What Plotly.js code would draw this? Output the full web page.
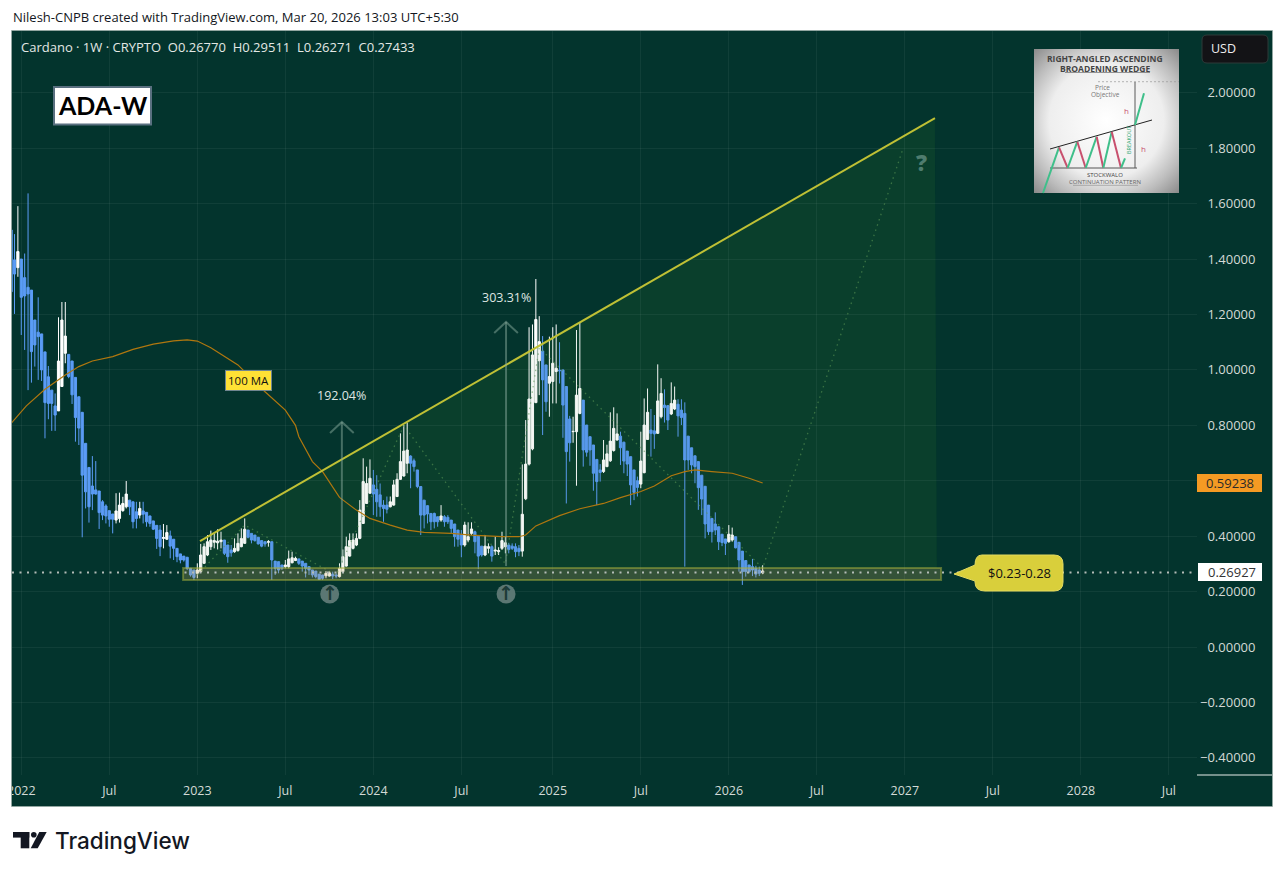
<!DOCTYPE html>
<html><head><meta charset="utf-8">
<script src="https://cdn.plot.ly/plotly-3.0.1.min.js"></script>
<style>html,body{margin:0;padding:0;background:#fff;overflow:hidden}#c{width:1284px;height:875px}</style>
</head><body><div id="c"></div>
<script>
// Weekly Cardano candles, first bar is the week of 2021-12-13
const firstWeek = '2021-12-13';
const opens = [1.505,1.397,1.369,1.40,1.333,1.298,1.288,1.18,1.136,1.13,1.065,.975,.927,.87,.852,.94,1.06,1.056,1.032,.973,.903,.847,.735,.648,.581,.567,.563,.524,.509,.492,.48,.458,.464,.492,.506,.53,.524,.488,.476,.491,.486,.473,.455,.439,.422,.392,.389,.401,.389,.356,.336,.328,.324,.284,.278,.266,.272,.302,.332,.362,.378,.376,.38,.386,.368,.35,.344,.348,.362,.374,.422,.41,.404,.396,.384,.38,.378,.38,.31,.308,.296,.29,.29,.304,.312,.318,.31,.302,.29,.278,.274,.263,.26,.257,.256,.263,.26,.254,.272,.292,.328,.356,.368,.392,.446,.518,.555,.585,.569,.549,.512,.512,.506,.512,.543,.605,.617,.663,.689,.672,.639,.579,.53,.51,.482,.482,.47,.458,.47,.468,.458,.444,.422,.404,.368,.386,.41,.416,.4,.364,.332,.356,.362,.346,.344,.356,.362,.368,.364,.362,.356,.346,.535,.66,.715,.882,1.033,1.068,1.018,.952,.958,.994,.999,1.0,.94,.823,.777,.777,.843,.891,.801,.759,.729,.677,.639,.633,.651,.672,.709,.747,.761,.739,.707,.687,.639,.6,.588,.629,.749,.783,.78,.771,.831,.873,.871,.841,.859,.876,.855,.843,.761,.719,.69,.669,.62,.58,.512,.464,.444,.434,.407,.39,.38,.386,.398,.378,.346,.312,.296,.29,.284,.278,.2677];
const closes = [1.282,1.346,1.427,1.262,1.267,1.274,1.066,1.09,1.12,1.0,.882,.879,.879,.837,1.032,1.18,1.122,.976,.91,.828,.79,.62,.56,.506,.552,.552,.485,.476,.473,.461,.461,.491,.512,.518,.552,.506,.452,.464,.5,.479,.452,.446,.425,.392,.362,.395,.413,.364,.356,.326,.314,.314,.284,.26,.251,.278,.332,.362,.38,.386,.384,.382,.386,.338,.326,.34,.356,.374,.392,.425,.396,.386,.384,.372,.364,.372,.38,.314,.284,.278,.284,.296,.318,.322,.32,.302,.292,.284,.278,.26,.254,.244,.248,.266,.268,.256,.256,.284,.326,.362,.384,.386,.392,.494,.597,.59,.609,.552,.524,.506,.5,.497,.524,.585,.605,.669,.707,.711,.663,.651,.579,.476,.476,.48,.452,.452,.452,.473,.452,.452,.428,.398,.389,.368,.44,.398,.426,.38,.328,.332,.364,.362,.328,.35,.348,.384,.376,.352,.356,.344,.344,.479,.66,.895,1.054,1.182,1.102,.964,.885,.976,1.024,1.006,.997,.873,.705,.737,.778,.909,.933,.711,.703,.711,.627,.597,.63,.675,.697,.743,.789,.769,.719,.671,.66,.585,.558,.576,.671,.801,.847,.771,.769,.888,.915,.864,.819,.879,.891,.834,.828,.675,.675,.657,.651,.575,.534,.444,.416,.416,.422,.38,.377,.374,.407,.404,.358,.314,.272,.272,.272,.278,.263,.266,.27433];
const highs = [1.505,1.49,1.591,1.40,1.42,1.637,1.288,1.18,1.262,1.13,1.065,1.014,.927,.915,1.19,1.245,1.245,1.056,1.032,.973,.903,.847,.735,.648,.689,.671,.563,.53,.515,.492,.48,.555,.557,.542,.599,.53,.524,.524,.524,.524,.486,.473,.455,.439,.44,.444,.44,.42,.389,.356,.336,.328,.324,.284,.278,.302,.372,.374,.404,.42,.41,.425,.416,.386,.368,.368,.392,.41,.428,.464,.422,.41,.404,.396,.384,.38,.386,.38,.31,.308,.296,.314,.348,.344,.326,.318,.31,.302,.29,.278,.274,.263,.26,.274,.274,.272,.266,.302,.352,.398,.41,.41,.41,.53,.681,.651,.677,.639,.62,.59,.53,.543,.543,.603,.627,.771,.801,.81,.692,.68,.639,.579,.53,.512,.482,.485,.47,.512,.476,.476,.458,.444,.422,.422,.452,.45,.45,.42,.4,.364,.404,.374,.367,.398,.36,.416,.398,.376,.374,.374,.368,.659,.819,1.154,1.164,1.328,1.194,1.122,1.018,1.12,1.154,1.164,1.1,1.0,.94,.834,.831,1.144,1.172,.891,.801,.759,.729,.677,.66,.747,.73,.847,.865,.843,.777,.741,.707,.687,.639,.615,.777,.897,.933,.859,.837,1.02,.97,.93,.873,.955,.94,.894,.894,.883,.761,.719,.69,.669,.62,.58,.512,.464,.486,.434,.407,.39,.44,.431,.398,.378,.346,.312,.296,.318,.293,.29,.29511];
const lows = [1.186,1.202,1.336,1.126,1.072,.927,.954,1.012,.964,.96,.753,.822,.78,.78,.852,.94,1.024,.97,.877,.741,.729,.396,.50,.449,.494,.55,.426,.458,.446,.434,.41,.446,.449,.488,.5,.476,.428,.428,.464,.446,.434,.434,.422,.354,.328,.356,.386,.32,.314,.306,.302,.308,.278,.254,.242,.248,.268,.3,.328,.35,.356,.352,.356,.332,.304,.326,.34,.344,.36,.372,.392,.374,.38,.37,.36,.362,.362,.242,.26,.266,.278,.284,.284,.302,.31,.296,.272,.251,.26,.251,.248,.242,.242,.248,.254,.245,.248,.251,.268,.29,.326,.352,.364,.389,.444,.516,.553,.476,.47,.47,.452,.482,.504,.51,.541,.603,.615,.627,.573,.633,.573,.404,.428,.446,.422,.428,.434,.452,.434,.444,.41,.362,.362,.324,.362,.378,.404,.338,.281,.326,.328,.338,.308,.332,.332,.35,.338,.338,.35,.324,.328,.326,.53,.655,.71,.88,.909,.765,.849,.831,.879,.879,.951,.755,.518,.669,.737,.582,.84,.651,.687,.654,.564,.512,.597,.628,.649,.668,.705,.745,.657,.627,.617,.512,.53,.543,.573,.627,.747,.687,.715,.769,.825,.81,.783,.837,.855,.759,.801,.29,.639,.627,.591,.495,.476,.392,.404,.377,.404,.35,.364,.332,.376,.38,.356,.272,.224,.254,.266,.256,.251,.256,.26271];
// 100-week moving average, read at these bar numbers
const maBars = [0,4.5,10,16,20,24,30,36,42,48,52,55,59,63,67,69,75,81,84,85,89,92,95,97,102,106,112,117,122,130,136,145,150,152,155,162,168,175,180,186,190,195,199,202,207,213,218,222];
const maValues = [.807,.87,.93,.982,1.012,1.032,1.048,1.074,1.093,1.105,1.108,1.104,1.08,1.048,1.018,.994,.921,.855,.80,.759,.669,.633,.579,.54,.494,.464,.44,.422,.414,.41,.404,.398,.398,.404,.437,.474,.499,.518,.539,.561,.581,.618,.633,.639,.633,.627,.609,.592];
// Drawn pattern on the chart
const trendBars = [55.8,272.9];
const trendValues = [.3825,1.909];
const wedgeBars = [55.8,272.9,273.5,55.8];
const wedgeValues = [.3825,1.909,.285,.285];
const zigzagBars = [55,69,96,116,146,156,222,263.5];
const zigzagValues = [.26,.44,.26,.80,.30,1.08,.285,1.80];
const zoneLow = .242, zoneHigh = .285, zoneBars = [50.8,274.7];
const lastPrice = .26927;
const yTicks = [2,1.8,1.6,1.4,1.2,1,.8,.6,.4,.2,0,-.2,-.4];
const xTicks = ['2022-01-03','2022-07-04','2023-01-02','2023-07-03','2024-01-01','2024-07-01','2025-01-06','2025-07-07','2026-01-05','2026-07-06','2027-01-04','2027-07-05','2028-01-03','2028-07-03'];
const xTickLabels = ['2022','Jul','2023','Jul','2024','Jul','2025','Jul','2026','Jul','2027','Jul','2028','Jul'];

const W0 = Date.UTC(2021,11,13);
const wk = i => new Date(W0 + i*7*864e5).toISOString().slice(0,19).replace('T',' ');
const dates = opens.map((_,i)=>wk(i));
const PL=12,PR=1197,PT=31,PB=775;
const px = x => (x-PL)/(PR-PL), py = y => (PB-y)/(PB-PT);
const FONT = '"Open Sans", sans-serif';
const LBL = '#d3dad6';

function rectPx(x0,y0,x1,y1,fill,extra){return Object.assign({type:'rect',xref:'paper',yref:'paper',x0:px(x0),x1:px(x1),y0:py(y0),y1:py(y1),fillcolor:fill,line:{width:0},layer:'above'},extra||{});}
function linePx(x0,y0,x1,y1,color,w,extra){return Object.assign({type:'line',xref:'paper',yref:'paper',x0:px(x0),x1:px(x1),y0:py(y0),y1:py(y1),line:{color:color,width:w},layer:'above'},extra||{});}
function pathPx(pts,fill,extra){
  const d=pts.map(p=>p.length===1?p[0]:p[0]+' '+p.slice(1).map((v,k)=>k%2?py(v):px(v)).reduce((a,v,k,arr)=>k%2?a:a.concat(v+' '+arr[k+1]),[]).join(' ')).join(' ');
  return Object.assign({type:'path',xref:'paper',yref:'paper',path:d,fillcolor:fill,line:{width:0},layer:'above'},extra||{});
}
function roundRect(x0,y0,x1,y1,r){return [['M',x0+r,y0],['L',x1-r,y0],['Q',x1,y0,x1,y0+r],['L',x1,y1-r],['Q',x1,y1,x1-r,y1],['L',x0+r,y1],['Q',x0,y1,x0,y1-r],['L',x0,y0+r],['Q',x0,y0,x0+r,y0],['Z']];}
function noteP(x,y,text,o){o=o||{};return {xref:'paper',yref:'paper',x:px(x),y:py(y),text:text,showarrow:false,xanchor:o.xa||'center',yanchor:'middle',align:o.xa||'center',textangle:o.angle||0,
  font:{family:o.family||FONT,size:o.size||12,color:o.color||'#000',weight:o.weight||400}};}
function noteD(i,v,text,o){o=o||{};return Object.assign({xref:'x',yref:'y',x:wk(i),y:v,text:text,showarrow:false,xanchor:'center',yanchor:'middle',font:{family:o.family||FONT,size:o.size||12,color:o.color||'#dfe6e2',weight:o.weight||400}},o.box||{});}

const traces = [
 {type:'candlestick',x:dates,open:opens,high:highs,low:lows,close:closes,whiskerwidth:0,hoverinfo:'skip',
  increasing:{line:{color:'#ffffff',width:1},fillcolor:'#ffffff'},decreasing:{line:{color:'#5b9cf6',width:1},fillcolor:'#5b9cf6'}},
 {type:'scatter',mode:'lines',x:wedgeBars.map(wk),y:wedgeValues,fill:'toself',fillcolor:'rgba(35,106,44,0.05)',line:{width:0,color:'rgba(0,0,0,0)'},hoverinfo:'skip'},
 {type:'scatter',mode:'lines',x:zigzagBars.map(wk),y:zigzagValues,line:{color:'rgba(90,150,85,0.6)',width:1.3,dash:'1.5px,4px'},hoverinfo:'skip'},
 {type:'scatter',mode:'lines',x:maBars.map(wk),y:maValues,line:{color:'#b0770f',width:1.2},hoverinfo:'skip'},
 {type:'scatter',mode:'lines',x:trendBars.map(wk),y:trendValues,line:{color:'#bfc035',width:2},hoverinfo:'skip'},
 // measured moves
 {type:'scatter',mode:'lines',x:[97.7,97.7,null,94.2,97.7,101.2].map(v=>v===null?null:wk(v)),y:[.303,.812,null,.772,.812,.772],line:{color:'rgba(135,170,155,0.5)',width:2},hoverinfo:'skip'},
 {type:'scatter',mode:'lines',x:[146.2,146.2,null,142.7,146.2,149.7].map(v=>v===null?null:wk(v)),y:[.292,1.173,null,1.133,1.173,1.133],line:{color:'rgba(135,170,155,0.5)',width:2},hoverinfo:'skip'},
 // circled arrows
 {type:'scatter',mode:'markers',x:[94.1,146.2].map(wk),y:[.191,.191],marker:{symbol:'circle',size:19,color:'#5b7773'},hoverinfo:'skip'}
];

const wedgePath = wedgeBars.map((b,k)=>(k?'L':'M')+wk(b).slice(0,10)+','+wedgeValues[k]).join(' ')+' Z';

const shapes = [
 rectPx(12,31,1272,806,'#03342d',{layer:'below'}),
 {type:'path',xref:'x',yref:'y',path:wedgePath,fillcolor:'rgba(35,106,44,0.2)',line:{width:0},layer:'below'},
 {type:'rect',xref:'x',yref:'y',x0:wk(zoneBars[0]),x1:wk(zoneBars[1]),y0:zoneLow,y1:zoneHigh,fillcolor:'rgba(200,170,90,0.25)',line:{color:'rgba(165,175,60,0.5)',width:2},layer:'above'},
 {type:'line',xref:'paper',yref:'y',x0:0,x1:1,y0:lastPrice,y1:lastPrice,line:{color:'#b4bcb7',width:2,dash:'2px,5.5px'},layer:'above'},
 // pane edges
 rectPx(0,775,12,806,'#ffffff'),
 linePx(1197,775,1272,775,'#e8ecea',1),
 {type:'rect',xref:'paper',yref:'paper',x0:px(11.5),x1:px(1272.5),y0:py(30.5),y1:py(806.5),line:{color:'#92a6a1',width:1},fillcolor:'rgba(0,0,0,0)',layer:'above'},
 // title box
 rectPx(54,87,151,124.5,'#ffffff',{line:{color:'#5a7080',width:2}}),
 // USD button
 pathPx(roundRect(1202,35,1268,63,5),'#131316',{line:{color:'#2e3b39',width:1}}),
 // price labels
 rectPx(1197,474,1262,492,'#f59a23'),
 rectPx(1198,563,1262,581,'#ffffff'),
 // callout
 pathPx([['M',982,555],['L',1054,555],['Q',1063,555,1063,564],['L',1063,582],['Q',1063,591,1054,591],['L',985,591],['Q',975,591,975,582],['L',975,581],['L',954,574],['L',975,565],['Q',975,555,982,555],['Z']],'#d9cf3b',{line:{color:'#e3da60',width:1}}),
 // TradingView mark
 rectPx(13,832,29.3,837.6,'#131722'),
 rectPx(20.7,832,29.3,848.3,'#131722'),
 pathPx([['M',39.3,832],['L',46.7,832],['L',37.7,848.3],['L',30.7,848.3],['Z']],'#131722'),
 {type:'circle',xref:'paper',yref:'paper',x0:px(31),x1:px(36.6),y0:py(832),y1:py(837.6),fillcolor:'#131722',line:{width:0},layer:'above'},
 // inset drawing
 linePx(1098,81.7,1179,81.7,'#999',.7,{line:{color:'#999',width:.7,dash:'2px,2px'}}),
 linePx(1135,82,1135,168,'#333',.8),
 linePx(1050,149,1152,120,'#222',1),
 linePx(1050,168,1137,168,'#555',1),
 linePx(1043,193,1059,147.3,'#3fbf8a',2),linePx(1059,147.3,1067.7,168,'#c8506e',2),
 linePx(1067.7,168,1077.3,141.7,'#3fbf8a',2),linePx(1077.3,141.7,1085.7,168,'#c8506e',2),
 linePx(1085.7,168,1096.7,136.7,'#3fbf8a',2),linePx(1096.7,136.7,1103.3,168,'#c8506e',2),
 linePx(1103.3,168,1111.7,131.7,'#3fbf8a',2),linePx(1111.7,131.7,1121,168,'#c8506e',2),
 linePx(1121,168,1125,158.3,'#3fbf8a',2),linePx(1135,125,1144,93.3,'#3fbf8a',2),
 linePx(1065,72.5,1150,72.5,'#555',.6),linePx(1073,185.3,1138,185.3,'#777',.5)
];

const images = [{source:'data:image/svg+xml,'+encodeURIComponent('<svg xmlns="http://www.w3.org/2000/svg" width="145" height="145"><defs><radialGradient id="g" cx="50%" cy="50%" r="72%"><stop offset="0" stop-color="#ffffff"/><stop offset="0.55" stop-color="#eeeeee"/><stop offset="0.78" stop-color="#bcbcbc"/><stop offset="1" stop-color="#858585"/></radialGradient></defs><rect width="145" height="145" fill="url(#g)"/></svg>'),
 xref:'paper',yref:'paper',x:px(1034),y:py(49),sizex:145/(PR-PL),sizey:144/(PB-PT),sizing:'stretch',xanchor:'left',yanchor:'top',layer:'above'}];

const annotations = [
 noteP(10.5,17,'Nilesh-CNPB created with TradingView.com, Mar 20, 2026 13:03 UTC+5:30',{xa:'left',size:13,color:'#131722'}),
 noteP(18.5,47,'Cardano · 1W · CRYPTO&nbsp;&nbsp;O0.26770&nbsp;&nbsp;H0.29511&nbsp;&nbsp;L0.26271&nbsp;&nbsp;C0.27433',{xa:'left',size:13,color:'#e3e8e5',weight:500}),
 noteP(1224,49,'USD',{size:12.5,color:'#eeeeee'}),
 noteP(1229.5,483,'0.59238',{size:13,color:'#2a2a2a'}),
 noteP(1232,572,'0.26927',{size:13,color:'#333'}),
 noteP(1019,573,'$0.23-0.28',{size:13,color:'#111'}),
 noteP(921,162,'?',{size:22,color:'#4f7c6e',weight:800}),
 noteD(97.7,.906,'192.04%',{size:12.5,weight:500}),
 noteD(146.2,1.263,'303.31%',{size:12.5,weight:500}),
 noteD(70,.96,'100 MA',{size:11.5,color:'#111',box:{bgcolor:'#ffe135',bordercolor:'#6f8590',borderwidth:1,borderpad:2}}),
 noteD(94.1,.196,'↑',{size:19,color:'#1c3b37',weight:700,family:'"DejaVu Sans", sans-serif'}),
 noteD(146.2,.196,'↑',{size:19,color:'#1c3b37',weight:700,family:'"DejaVu Sans", sans-serif'}),
 noteP(102.5,105.5,'ADA-W',{size:25,color:'#000',family:'Lato, sans-serif',weight:700}),
 noteP(1105,59,'RIGHT-ANGLED ASCENDING',{size:8.5,color:'#444',weight:700}),
 noteP(1105,68.5,'BROADENING WEDGE',{size:8.5,color:'#444',weight:700}),
 noteP(1102,87,'Price',{size:6.5,color:'#777'}),
 noteP(1105,94,'Objective',{size:6.5,color:'#777'}),
 noteP(1126.5,110,'h',{size:8,color:'#c8506e'}),
 noteP(1143.5,149,'h',{size:8,color:'#c8506e'}),
 noteP(1129,140,'BREAKOUT',{size:5.5,color:'#2fa774',angle:-90}),
 noteP(1105,175,'STOCKWALO',{size:6,color:'#444'}),
 noteP(1105,182,'CONTINUATION PATTERN',{size:6,color:'#666'}),
 noteP(52.5,841,'TradingView',{xa:'left',size:22.5,color:'#131722',family:'Inter, sans-serif',weight:500})
];

const layout = {
 width:1284,height:875,autosize:false,showlegend:false,hovermode:false,dragmode:false,
 paper_bgcolor:'#ffffff',plot_bgcolor:'rgba(0,0,0,0)',boxgap:.35,boxgroupgap:0,
 margin:{l:PL,r:1284-PR,t:PT,b:875-PB,pad:0},
 font:{family:FONT,color:LBL,size:13},
 xaxis:{type:'date',range:[wk(.26),wk(350.3)],tickmode:'array',tickvals:xTicks,ticktext:xTickLabels,showgrid:true,gridcolor:'rgba(255,255,255,0.055)',gridwidth:1,
  ticks:'',ticklen:0,ticklabelstandoff:6,showline:false,zeroline:false,rangeslider:{visible:false},tickfont:{family:FONT,size:12.5,color:LBL,weight:500},automargin:false,fixedrange:true},
 yaxis:{side:'right',range:[(647-775)/277.1,(647-31)/277.1],tickmode:'array',tickvals:yTicks,
  ticktext:yTicks.map(v=>v===.6?' ':(v<0?'\u2212':'\u2007')+Math.abs(v).toFixed(5)),
  showgrid:true,gridcolor:'rgba(255,255,255,0.055)',gridwidth:1,zeroline:false,showline:false,ticks:'',ticklen:0,ticklabelstandoff:2,
  tickfont:{family:FONT,size:13,color:LBL,weight:500},automargin:false,fixedrange:true},
 shapes:shapes,images:images,annotations:annotations
};
Plotly.newPlot('c',traces,layout,{displayModeBar:false,staticPlot:true});
</script></body></html>
